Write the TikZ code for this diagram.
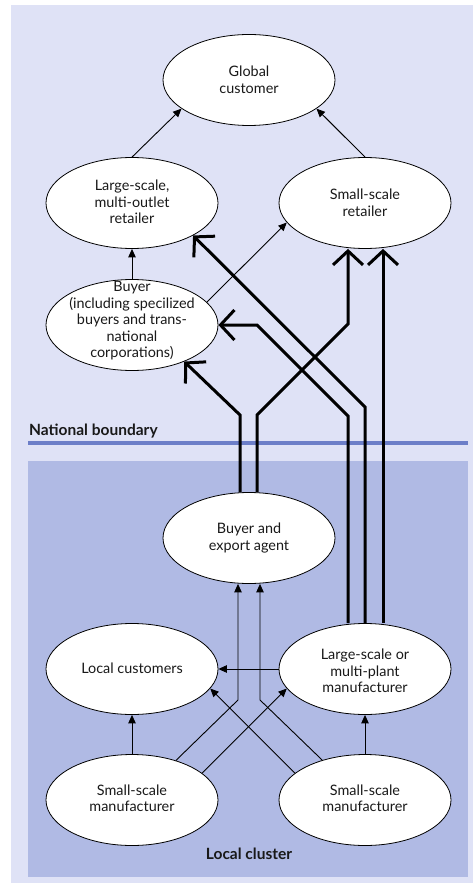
\documentclass[tikz,border=0pt]{standalone}
\usepackage{fontspec}
\setmainfont{Lato}
\usetikzlibrary{shapes.geometric,arrows.meta}
\definecolor{outerbg}{RGB}{223,226,246}
\definecolor{innerbg}{RGB}{176,186,228}
\definecolor{nbline}{RGB}{108,126,200}
\begin{document}
\begin{tikzpicture}[x=1pt,y=-1pt,
  ell/.style={ellipse,draw=black,line width=0.8pt,fill=white,minimum width=172pt,minimum height=91pt,inner sep=0pt},
  txt/.style={align=center,font=\fontsize{14.4}{16.5}\selectfont,inner sep=0pt,text=black!90},
  thinarr/.style={line width=0.9pt,-{Triangle[length=8.5pt,width=7.5pt]}},
  thickarr/.style={line width=3pt,-{Straight Barb[length=14pt,width=30pt]}},
  lbl/.style={font=\bfseries\fontsize{15.5}{17}\selectfont,inner sep=0pt,text=black!90}]
\useasboundingbox (0,0) rectangle (473,885);
\fill[outerbg] (11,5) rectangle (473,883);
\fill[innerbg] (28,461) rectangle (468,877);
\draw[nbline,line width=4pt] (28,443) -- (468,443);
\node[lbl,anchor=west] (nb) at (29,431) {National boundary};
\node[lbl] (lc) at (249,854) {Local cluster};

\node[ell] (glob) at (249,80) {};
\node[txt] (globt) at (249,80) {Global\\customer};
\node[ell] (lret) at (132,203) {};
\node[txt] (lrett) at (132,202) {Large-scale,\\multi-outlet\\retailer};
\node[ell] (sret) at (365,203) {};
\node[txt] (srett) at (365,203) {Small-scale\\retailer};
\node[ell] (buyer) at (132,325) {};
\node[txt] (buyert) at (132,321) {Buyer\\(including specilized\\buyers and trans-\\national\\corporations)};
\node[ell] (agent) at (249,538) {};
\node[txt] (agentt) at (249,538) {Buyer and\\export agent};
\node[ell] (lcus) at (132,669) {};
\node[txt] (lcust) at (132,668) {Local customers};
\node[ell] (lmfr) at (365,669) {};
\node[txt] (lmfrt) at (365,671) {Large-scale or\\multi-plant\\manufacturer};
\node[ell] (smL) at (132,800) {};
\node[txt] (smLt) at (132,798) {Small-scale\\manufacturer};
\node[ell] (smR) at (365,800) {};
\node[txt] (smRt) at (365,798) {Small-scale\\manufacturer};

% thin connectors
\draw[thinarr] (lret.north) -- (glob.-157);
\draw[thinarr] (sret.north) -- (glob.-23);
\draw[thinarr] (buyer.north) -- (lret.south);
\draw[thinarr] (buyer.17) -- (sret.-166);
\draw[thinarr] (smL.north) -- (lcus.south);
\draw[thinarr] (smR.north) -- (lmfr.south);
\draw[thinarr] (lmfr.west) -- (lcus.east);
\coordinate (k1) at (238,700);
\coordinate (k2) at (260,700);
\draw[thinarr] (smL.42) -- (k1) -- (k1 |- agent.south);
\draw[thinarr] (smR.137) -- (k2) -- (k2 |- agent.south);
\draw[thinarr] (smL.21) -- (lmfr.-166);
\draw[thinarr] (smR.159) -- (lcus.-14);

% thick connectors
\coordinate (a1) at (240,415);
\coordinate (b1) at (257,415);
\coordinate (b2) at (348,324);
\coordinate (c1) at (348,416);
\coordinate (c2) at (257,325);
\coordinate (d1) at (365,407);
\coordinate (e1) at (383,400);
\draw[thickarr] (a1 |- agent.north) -- (a1) -- (buyer.-35);
\draw[thickarr] (b1 |- agent.north) -- (b1) -- (b2) -- (b2 |- sret.south);
\draw[thickarr] (c1 |- lmfr.north) -- (c1) -- (c2) -- (buyer.east);
\draw[thickarr] (lmfr.north) -- (d1) -- (lret.-28);
\draw[thickarr] (e1 |- lmfr.north) -- (e1 |- sret.south);
\end{tikzpicture}
\end{document}
